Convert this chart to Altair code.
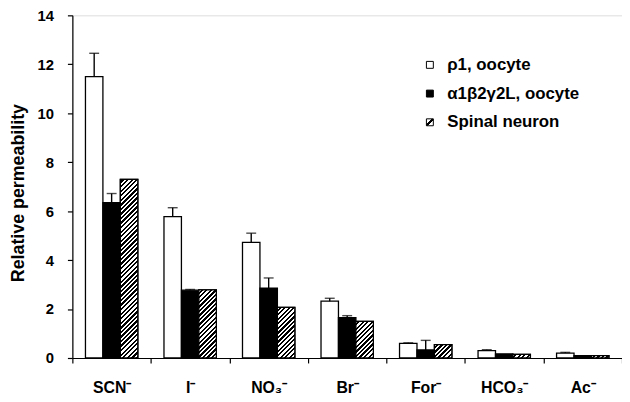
import altair as alt
import pandas as pd

# ---- data ----
ions = ["SCN⁻", "I⁻", "NO₃⁻", "Br⁻", "For⁻", "HCO₃⁻", "Ac⁻"]
series = ["ρ1, oocyte", "α1β2γ2L, oocyte", "Spinal neuron"]

rho1 = [11.5, 5.78, 4.72, 2.32, 0.60, 0.30, 0.20]
rho1_err = [0.95, 0.36, 0.38, 0.12, 0.02, 0.04, 0.03]

a1b2g2 = [6.35, 2.77, 2.85, 1.65, 0.33, 0.17, 0.10]
a1b2g2_err = [0.37, 0.03, 0.42, 0.08, 0.39, 0.0, 0.0]

spinal = [7.3, 2.78, 2.07, 1.50, 0.55, 0.15, 0.10]
spinal_err = [0.0, 0.0, 0.0, 0.0, 0.0, 0.0, 0.0]

rows = []
for s, vals, errs in zip(series, [rho1, a1b2g2, spinal], [rho1_err, a1b2g2_err, spinal_err]):
    for ion, v, e in zip(ions, vals, errs):
        rows.append({"ion": ion, "series": s, "value": v, "upper": v + e, "err": e})
df = pd.DataFrame(rows)

# ---- layout ----
W, H = 555, 346
BW = W / 7 / 4.5          # bar width in px (3 bars + 0.75 outer padding each side)
K = H / 14.0              # px per unit
P = 4.6                   # hatch period (px)
N = 48                    # number of stripes available

stops = []
for i in range(N):
    a, m, b = i / N, (i + 0.5) / N, (i + 1) / N
    stops += [
        f"{{offset:{a:.5f},color:'white'}}",
        f"{{offset:{m:.5f},color:'white'}}",
        f"{{offset:{m:.5f},color:'black'}}",
        f"{{offset:{b:.5f},color:'black'}}",
    ]
stops_expr = "[" + ",".join(stops) + "]"

legend_grad = ("{gradient:'linear',x1:0,y1:0,x2:1,y2:1,stops:["
               "{offset:0,color:'white'},{offset:0.36,color:'white'},"
               "{offset:0.36,color:'black'},{offset:0.62,color:'black'},"
               "{offset:0.62,color:'white'},{offset:1,color:'white'}]}")

FONT = "Liberation Sans"

x_enc = alt.X(
    "ion:N",
    sort=ions,
    scale=alt.Scale(domain=ions, paddingInner=0, paddingOuter=0),
    axis=alt.Axis(
        title=None, labelAngle=0, labelFont=FONT, labelFontSize=16,
        labelFontWeight="bold", labelColor="black", labelPadding=17,
        tickSize=5, tickBand="extent", tickColor="black", tickWidth=1.2,
        domainColor="black", domainWidth=1.2,
    ),
)
xo_enc = alt.XOffset(
    "series:N", sort=series,
    scale=alt.Scale(domain=series, paddingInner=0, paddingOuter=0.75),
)
YT = "Relative permeability"
y_scale = alt.Scale(domain=[0, 14], nice=False)
y_enc = alt.Y(
    "value:Q", scale=y_scale, title=YT,
    axis=alt.Axis(
        values=list(range(0, 15, 2)), title=YT, titleFont=FONT,
        titleFontSize=18, titleFontWeight="bold", titleColor="black",
        titleX=-45, titleY=179, labelFont=FONT, labelFontSize=15,
        labelFontWeight="bold", labelColor="black", labelPadding=14,
        tickSize=5, tickColor="black", tickWidth=1.2,
        domainColor="black", domainWidth=1.2, grid=False,
    ),
)

bars = alt.Chart(df).mark_bar(stroke="black", strokeWidth=1.3).encode(
    x=x_enc,
    xOffset=xo_enc,
    y=y_enc,
    fill=alt.Fill(
        "series:N", sort=series,
        scale=alt.Scale(domain=series, range=["white", "black", {"expr": legend_grad}]),
        legend=alt.Legend(
            title=None, orient="none", legendX=352.5, legendY=41.5,
            symbolType="square", symbolSize=49, symbolStrokeColor="black",
            symbolStrokeWidth=1, labelFont=FONT, labelFontSize=17,
            labelFontWeight="bold", labelColor="black", labelOffset=9,
            rowPadding=11, padding=0,
        ),
    ),
)

hatch = (
    alt.Chart(df)
    .transform_filter(alt.datum.series == series[2])
    .transform_calculate(h=f"datum.value*{K}")
    .transform_calculate(den=f"{BW * BW}+datum.h*datum.h")
    .transform_calculate(
        grad=f"{{gradient:'linear',x1:0,y1:0,x2:{P * N * BW}/datum.den,"
             f"y2:{P * N}*datum.h/datum.den,stops:{stops_expr}}}"
    )
    .mark_bar(stroke="black", strokeWidth=1.3)
    .encode(
        x=x_enc, xOffset=xo_enc,
        y=alt.Y("value:Q", scale=y_scale, title=YT),
        fill=alt.Fill("grad:N", scale=None, legend=None),
    )
)

err_base = alt.Chart(df).transform_filter("datum.err > 0")
rules = err_base.mark_rule(color="black", strokeWidth=1.4).encode(
    x=x_enc, xOffset=xo_enc,
    y=alt.Y("value:Q", scale=y_scale, title=YT),
    y2="upper:Q",
)
caps = err_base.mark_tick(color="black", thickness=1.4, size=10, orient="horizontal").encode(
    x=x_enc, xOffset=xo_enc,
    y=alt.Y("upper:Q", scale=y_scale, title=YT),
)

chart = (
    alt.layer(bars, hatch, rules, caps)
    .properties(
        width=W, height=H,
        autosize=alt.AutoSizeParams(type="none"),
        padding={"left": 65, "top": 5.5, "right": 0, "bottom": 40.5},
        background="white",
    )
    .configure_view(stroke=None)
    .configure(font=FONT)
)

chart.save("out.html", embed_options={"renderer": "svg", "actions": False})
